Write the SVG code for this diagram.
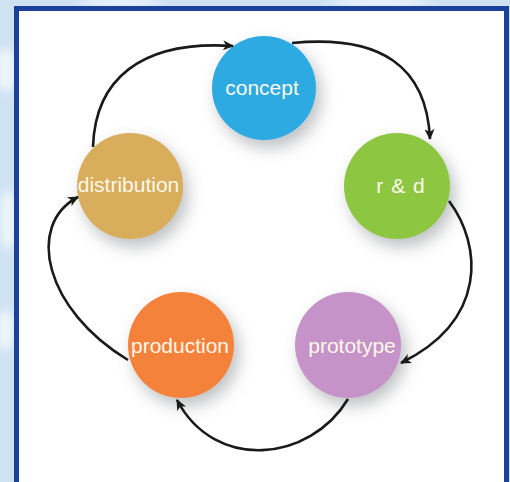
<svg xmlns="http://www.w3.org/2000/svg" width="510" height="482" viewBox="0 0 510 482">
  <defs>
    <filter id="shadow" x="-50%" y="-50%" width="200%" height="200%">
      <feDropShadow dx="5" dy="8" stdDeviation="8" flood-color="#6f7378" flood-opacity="0.45"/>
    </filter>
    <filter id="cloud" x="-50%" y="-50%" width="200%" height="200%">
      <feGaussianBlur stdDeviation="4"/>
    </filter>
    <marker id="arrow" markerWidth="12" markerHeight="10" refX="10" refY="5" orient="auto" markerUnits="userSpaceOnUse">
      <path d="M0,0 L11,5 L0,10 L3,5 Z" fill="#1a1a1a"/>
    </marker>
    <style>
      .node-label { font-family: "Liberation Sans", Arial, sans-serif; font-size: 21px; fill: #fdf8ea; text-anchor: middle; }
      .conn { fill: none; stroke: #1a1a1a; stroke-width: 2.6; marker-end: url(#arrow); }
      .frame { fill: #ffffff; stroke: #1c419a; stroke-width: 5; }
    </style>
  </defs>

  <!-- outside background -->
  <rect x="0" y="0" width="510" height="482" fill="#cfe2f2"/>
  <g filter="url(#cloud)" fill="#f2f8fd" opacity="0.9">
    <ellipse cx="6" cy="70" rx="10" ry="22"/>
    <ellipse cx="8" cy="220" rx="8" ry="30"/>
    <ellipse cx="5" cy="330" rx="9" ry="20"/>
    <ellipse cx="120" cy="2" rx="40" ry="5"/>
    <ellipse cx="380" cy="2" rx="50" ry="5"/>
  </g>

  <!-- frame -->
  <rect class="frame" x="16.5" y="8.5" width="490" height="480"/>

  <!-- nodes -->
  <g id="concept">
    <circle cx="264" cy="88" r="52" fill="#2eaae2" filter="url(#shadow)"/>
    <text class="node-label" x="262" y="95">concept</text>
  </g>
  <g id="rnd">
    <circle cx="397" cy="186" r="53" fill="#8dc63f" filter="url(#shadow)"/>
    <text class="node-label" x="401" y="193" letter-spacing="1">r &amp; d</text>
  </g>
  <g id="prototype">
    <circle cx="348" cy="345" r="53" fill="#c693c8" filter="url(#shadow)"/>
    <text class="node-label" x="352" y="353">prototype</text>
  </g>
  <g id="production">
    <circle cx="181" cy="345" r="53" fill="#f5823a" filter="url(#shadow)"/>
    <text class="node-label" x="180" y="353">production</text>
  </g>
  <g id="distribution">
    <circle cx="130" cy="186" r="53" fill="#d8ad5c" filter="url(#shadow)"/>
    <text class="node-label" x="128.5" y="192">distribution</text>
  </g>

  <!-- connectors -->
  <g id="connectors">
    <path class="conn" d="M292,43 Q425,30 430,139"/>
    <path class="conn" d="M449,201 C482,245 488,320 401,363"/>
    <path class="conn" d="M348,399 C310,462 215,472 177,400"/>
    <path class="conn" d="M128,360 C45,310 25,225 78,197"/>
    <path class="conn" d="M93,147 C95,80 140,40 233,46"/>
  </g>
</svg>
